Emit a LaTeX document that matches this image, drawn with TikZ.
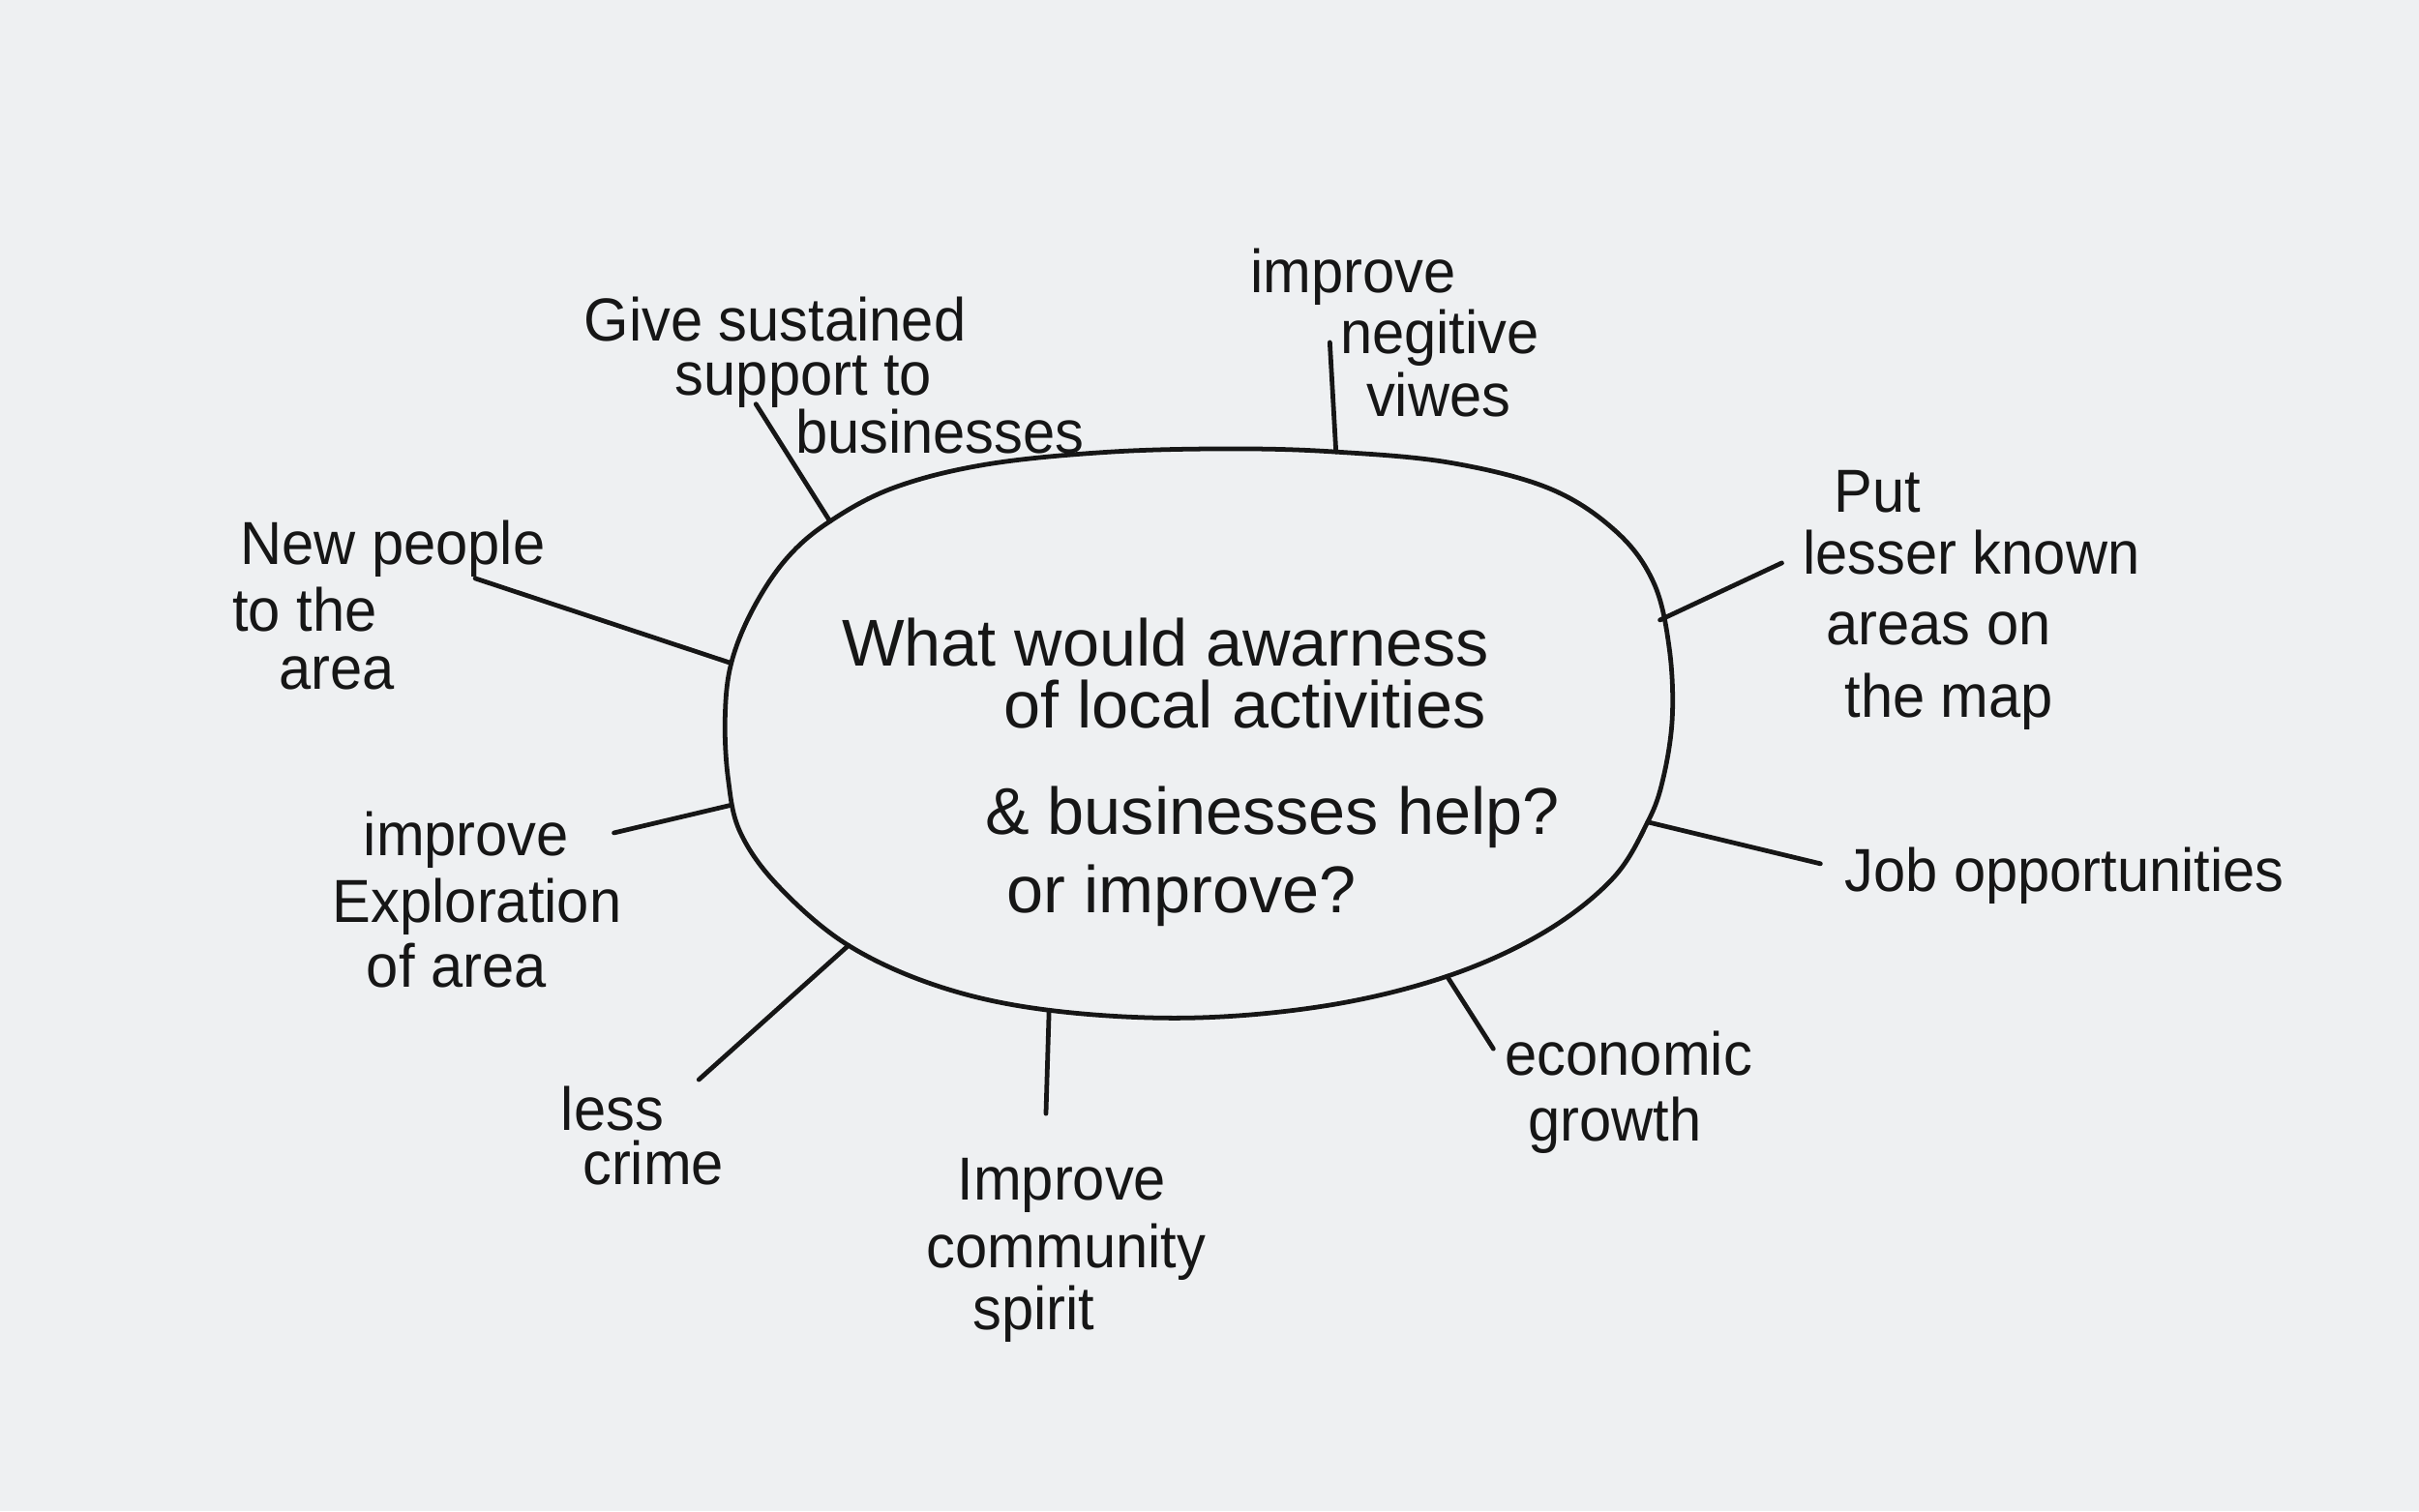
\documentclass[tikz,border=0pt]{standalone}
\usepackage{fontspec}
\newfontfamily\handl[FakeStretch=0.95]{Liberation Sans}
\newfontfamily\handq{Liberation Sans}
\begin{document}
\begin{tikzpicture}[x=0.01cm,y=-0.01cm,
  ink/.style={draw=inkc,line width=0.85pt,line cap=round,line join=round},
  lbl/.style={anchor=base west,inner sep=0,text=inkc,font=\handl\fontsize{11.2}{13}\selectfont},
  qst/.style={anchor=base west,inner sep=0,text=inkc,font=\handq\fontsize{12.2}{14}\selectfont}]
\definecolor{inkc}{HTML}{161616}
\definecolor{paper}{HTML}{EEF0F2}
\fill[paper] (0,0) rectangle (1568,980);
\useasboundingbox (0,0) rectangle (1568,980);

% central oval
\draw[ink] plot[smooth cycle,tension=0.6] coordinates {
 (470,465) (474,430) (488,395) (510,362) (538,338) (580,316) (640,301) (720,293)
 (800,291) (866,293) (940,300) (1005,317) (1048,345) (1072,378) (1082,420)
 (1084,465) (1078,505) (1068,533) (1045,570) (1000,605) (938,633) (860,652)
 (770,660) (680,655) (610,640) (550,613) (505,575) (480,540) (472,505)};

% junctions on the oval
\coordinate (e1) at (538,338);
\coordinate (e2) at (866,293);
\coordinate (e3) at (1076,402);
\coordinate (e4) at (1068,533);
\coordinate (e5) at (938,633);
\coordinate (e6) at (680,655);
\coordinate (e7) at (550,613);
\coordinate (e8) at (474,522);
\coordinate (e9) at (474,430);
% free ends
\coordinate (o1) at (490,262);
\coordinate (o2) at (862,222);
\coordinate (o3) at (1155,365);
\coordinate (o4) at (1180,560);
\coordinate (o5) at (968,680);
\coordinate (o6) at (678,722);
\coordinate (o7) at (453,700);
\coordinate (o8) at (398,540);
\coordinate (o9) at (308,375);

\foreach \i in {1,...,9} {\draw[ink] (e\i) -- (o\i);}

% central question
\node[qst] (q1) at (545,432) {What would awarness};
\node[qst] (q2) at (650,472) {of local activities};
\node[qst] (q3) at (638,541) {\& businesses help?};
\node[qst] (q4) at (652,592) {or improve?};

% labels
\node[lbl] (g1) at (378,221) {Give sustained};
\node[lbl] (g2) at (437,256) {support to};
\node[lbl] (g3) at (515,294) {businesses};

\node[lbl] (n1) at (810,190) {improve};
\node[lbl] (n2) at (868,229) {negitive};
\node[lbl] (n3) at (885,270) {viwes};

\node[lbl] (p1) at (1188,332) {Put};
\node[lbl] (p2) at (1168,372) {lesser known};
\node[lbl] (p3) at (1183,418) {areas on};
\node[lbl] (p4) at (1195,465) {the map};

\node[lbl] (j1) at (1195,578) {Job opportunities};

\node[lbl] (ec1) at (975,697) {economic};
\node[lbl] (ec2) at (990,740) {growth};

\node[lbl] (cs1) at (620,778) {Improve};
\node[lbl] (cs2) at (600,822) {community};
\node[lbl] (cs3) at (630,862) {spirit};

\node[lbl] (lc1) at (363,733) {less};
\node[lbl] (lc2) at (377,768) {crime};

\node[lbl] (ex1) at (235,555) {improve};
\node[lbl] (ex2) at (215,598) {Exploration};
\node[lbl] (ex3) at (237,640) {of area};

\node[lbl] (np1) at (155,366) {New people};
\node[lbl] (np2) at (150,409) {to the};
\node[lbl] (np3) at (180,447) {area};
\end{tikzpicture}
\end{document}
